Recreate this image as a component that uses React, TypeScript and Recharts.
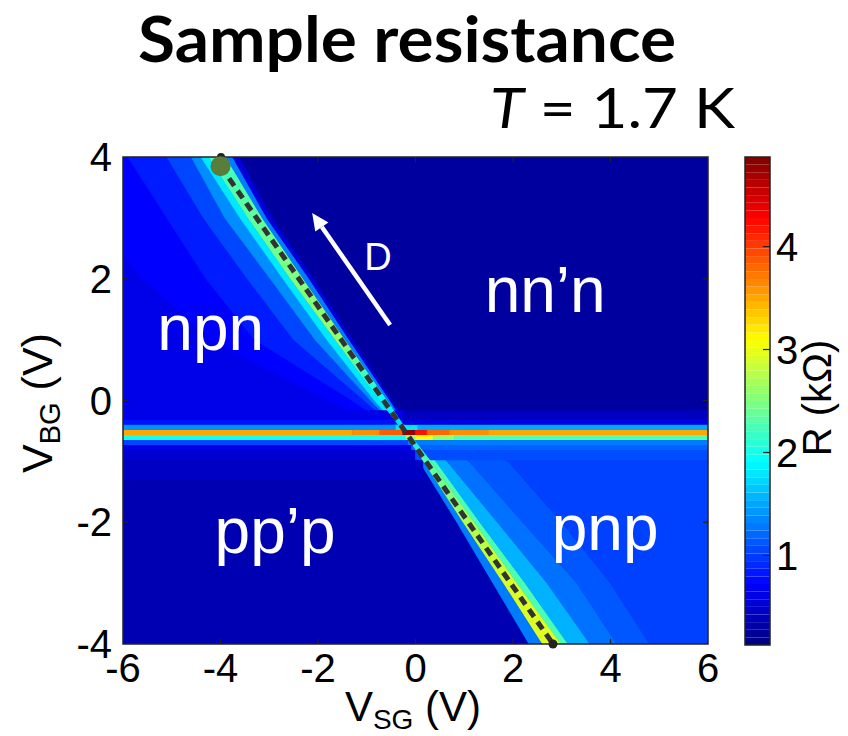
import React from "react";
import {
  ComposedChart,
  Area,
  Line,
  XAxis,
  YAxis,
  ReferenceArea,
  ReferenceLine,
  ReferenceDot,
} from "recharts";

const xTicks = [-6, -4, -2, 0, 2, 4, 6];
const yTicks = [-4, -2, 0, 2, 4];
const colorTicks = [1, 2, 3, 4];
const rLimits = [0.13, 4.87];

// flat regions, R in kOhm
const bulkNnn = 0.27;
const bulkPpp = 0.37;

// Dirac line (dashed) end points
const diracLine = [
  { vsg: -4.0, vbg: 3.85 },
  { vsg: 2.82, vbg: -4 },
];

// upper half: V_SG where each colour step of the map ends, per V_BG row
const upperRows = [4, 3, 2, 1, 0, -0.5];
const npnEdge5 = [-7.5, -6.6, -5.6, -4.2, -1.8, -0.5];
const npnEdge4 = [-5.9, -5.1, -4.3, -3.3, -1.3, -0.4];
const npnEdge3 = [-5.1, -4.35, -3.45, -2.5, -1.05, -0.34];
const npnEdge2 = [-4.6, -3.91, -2.98, -2.06, -0.92, -0.3];
const npnEdge1 = [-4.4, -3.6, -2.72, -1.82, -0.84, -0.28];
const coreLeftUpper = [-4.25, -3.44, -2.57, -1.65, -0.74, -0.26];
const coreRightUpper = [-3.9, -3.15, -2.31, -1.45, -0.58, -0.16];
const nnnEdge1 = [-3.75, -3.05, -2.18, -1.36, -0.52, -0.13];
const nnnEdge2 = [-3.62, -2.95, -2.1, -1.3, -0.48, -0.11];
const npnR = [0.62, 0.72, 0.85, 1.05, 1.38, 1.8];
const nnnR = [1.3, 0.55];
const coreUpperR = [2.2, 2.35, 2.5, 2.6, 1.9, 1.7];

// lower half
const lowerRows = [-0.5, -1, -2, -3, -4];
const pppEdge = [-0.27, 0.08, 0.85, 1.59, 2.33];
const coreLeftLower = [-0.26, 0.16, 0.97, 1.8, 2.6];
const coreRightLower = [-0.16, 0.32, 1.2, 2.08, 2.98];
const pnpEdge1 = [-0.12, 0.42, 1.32, 2.25, 3.13];
const pnpEdge2 = [-0.05, 0.65, 1.68, 2.7, 3.58];
const pnpEdge3 = [0.15, 1.1, 2.2, 3.31, 4.13];
const pnpEdge4 = [0.6, 1.9, 3.0, 4.0, 4.8];
const pppR = [1.3];
const pnpR = [2.25, 1.55, 1.25, 1.12, 1.02];
const coreLowerR = [1.7, 2.3, 2.7, 2.9, 2.95];

// horizontal resistance peak near V_BG = -0.5 V
const bandY = [-0.16, -0.32, -0.4, -0.485, -0.567, -0.649, -0.731, -0.813, -0.98, -1.3];
const bandCellX = [
  [-6, -0.25, 6],
  [-6, -0.25, 6],
  [-6, -0.4, 0.05, 6],
  [-6, -1.3, -0.73, -0.26, 0.0, 0.24, 0.7, 1.5, 6],
  [-6, -0.2, 0.0, 0.36, 0.8, 6],
  [-6, -0.15, 6],
  [-6, -0.08, 6],
  [-6, 0.0, 6],
  [-6, 0.15],
];
const bandCellR = [
  [0.62, 0.42],
  [0.8, 0.6],
  [1.4, 1.8, 1.5],
  [3.5, 3.62, 3.85, 4.75, 4.2, 3.8, 3.62, 3.5],
  [2.0, 2.6, 3.1, 2.6, 2.3],
  [1.05, 1.3],
  [0.62, 1.18],
  [0.52, 1.08],
  [0.45],
];
const innerBandRows = [2, 3, 4];

const FONT = "Liberation Sans, Arial, sans-serif";
const OUT = 12; // beyond the plot, clipped

function jet(r: number) {
  const f = Math.min(1, Math.max(0, (r - rLimits[0]) / (rLimits[1] - rLimits[0])));
  const ch = (c: number) =>
    Math.round(255 * Math.min(1, Math.max(0, 1.5 - Math.abs(4 * f - c))));
  return `rgb(${ch(3)},${ch(2)},${ch(1)})`;
}

const band = (rows: number[], left: number[], right: number[]) =>
  rows.map((vbg, i) => ({ vbg, range: [left[i], right[i]] }));

const farLeft = (rows: number[]) => rows.map(() => -OUT);
const farRight = (rows: number[]) => rows.map(() => OUT);

const layers: { data: any[]; r: number }[] = [
  { data: band([4.5, -4.5], [-OUT, -OUT], [OUT, OUT]), r: bulkNnn },
  { data: band([-0.5, -4.5], [-OUT, -OUT], [OUT, OUT]), r: bulkPpp },
  { data: band(upperRows, farLeft(upperRows), npnEdge5), r: npnR[0] },
  { data: band(upperRows, npnEdge5, npnEdge4), r: npnR[1] },
  { data: band(upperRows, npnEdge4, npnEdge3), r: npnR[2] },
  { data: band(upperRows, npnEdge3, npnEdge2), r: npnR[3] },
  { data: band(upperRows, npnEdge2, npnEdge1), r: npnR[4] },
  { data: band(upperRows, npnEdge1, coreLeftUpper), r: npnR[5] },
  { data: band(upperRows, coreRightUpper, nnnEdge1), r: nnnR[0] },
  { data: band(upperRows, nnnEdge1, nnnEdge2), r: nnnR[1] },
  { data: band(lowerRows, pppEdge, coreLeftLower), r: pppR[0] },
  { data: band(lowerRows, coreRightLower, pnpEdge1), r: pnpR[0] },
  { data: band(lowerRows, pnpEdge1, pnpEdge2), r: pnpR[1] },
  { data: band(lowerRows, pnpEdge2, pnpEdge3), r: pnpR[2] },
  { data: band(lowerRows, pnpEdge3, pnpEdge4), r: pnpR[3] },
  { data: band(lowerRows, pnpEdge4, farRight(lowerRows)), r: pnpR[4] },
];

const coreRows = [...upperRows, ...lowerRows.slice(1)];
const coreData = band(
  coreRows,
  [...coreLeftUpper, ...coreLeftLower.slice(1)],
  [...coreRightUpper, ...coreRightLower.slice(1)]
);
const coreR = [...coreUpperR, ...coreLowerR.slice(1)];

const bandCells = bandCellX.flatMap((xs, row) =>
  xs.slice(0, -1).map((x1, i) => ({
    row,
    data: band([bandY[row], bandY[row + 1]], [x1, x1], [xs[i + 1], xs[i + 1]]),
    r: bandCellR[row][i],
  }))
);

// 64-step jet colour bar
const colorLevels = Array.from({ length: 64 }, (_, i) => {
  const step = (rLimits[1] - rLimits[0]) / 64;
  const r1 = rLimits[0] + i * step;
  return {
    data: [
      { r: r1, range: [0, 1] },
      { r: r1 + step, range: [0, 1] },
    ],
    fill: jet(r1 + step / 2),
  };
});

function Arrow(p: any) {
  const { x1, y1, x2, y2 } = p;
  const len = Math.hypot(x2 - x1, y2 - y1);
  const ux = (x2 - x1) / len;
  const uy = (y2 - y1) / len;
  const bx = x2 - ux * 17;
  const by = y2 - uy * 17;
  return (
    <g>
      <line x1={x1} y1={y1} x2={bx} y2={by} stroke="#fff" strokeWidth={4.5} />
      <polygon
        points={`${x2},${y2} ${bx - uy * 8},${by + ux * 8} ${bx + uy * 8},${by - ux * 8}`}
        fill="#fff"
      />
    </g>
  );
}

const regionLabel = (text: string, size = 64) => ({
  value: text,
  position: "center" as const,
  fill: "#fff",
  fontSize: size,
  fontFamily: FONT,
});

const cell = (key: string, data: any[], color: string, sw = 0.6) => (
  <Area
    key={key}
    data={data}
    dataKey="range"
    type="linear"
    fill={color}
    fillOpacity={1}
    stroke={color}
    strokeWidth={sw}
    dot={false}
    activeDot={false}
    isAnimationActive={false}
  />
);

function HeatMap() {
  return (
    <ComposedChart
      width={848}
      height={736}
      layout="vertical"
      margin={{ top: 157, right: 140, bottom: 52, left: 63 }}
    >
      <defs>
        <linearGradient id="coreGrad" x1="0" y1="0" x2="0" y2="1">
          {coreRows.map((vbg, i) => (
            <stop key={i} offset={(4 - vbg) / 8} stopColor={jet(coreR[i])} />
          ))}
        </linearGradient>
      </defs>
      <XAxis
        type="number"
        domain={[-6, 6]}
        ticks={xTicks}
        interval={0}
        allowDataOverflow
        height={40}
        tickLine={false}
        axisLine={false}
        tickMargin={4}
        tick={{ fontSize: 40, fill: "#000", fontFamily: FONT }}
      />
      <YAxis
        type="number"
        dataKey="vbg"
        domain={[-4, 4]}
        ticks={yTicks}
        interval={0}
        reversed
        allowDataOverflow
        width={60}
        tickLine={false}
        axisLine={false}
        tickMargin={5}
        tick={{ fontSize: 40, fill: "#000", fontFamily: FONT }}
      />
      {layers.map((l, i) => cell(`l${i}`, l.data, jet(l.r), 0.8))}
      {bandCells
        .filter((c) => !innerBandRows.includes(c.row))
        .map((c, i) => cell(`bo${i}`, c.data, jet(c.r)))}
      <Area
        data={coreData}
        dataKey="range"
        type="linear"
        fill="url(#coreGrad)"
        fillOpacity={1}
        stroke="none"
        dot={false}
        activeDot={false}
        isAnimationActive={false}
      />
      {bandCells
        .filter((c) => innerBandRows.includes(c.row))
        .map((c, i) => cell(`bi${i}`, c.data, jet(c.r)))}
      <Line
        data={diracLine}
        dataKey="vsg"
        type="linear"
        stroke="#333"
        strokeWidth={5}
        strokeDasharray="9 6"
        dot={false}
        activeDot={false}
        isAnimationActive={false}
      />
      <ReferenceLine
        segment={[
          { x: -0.52, y: 1.24 },
          { x: -2.12, y: 3.08 },
        ]}
        shape={Arrow}
        ifOverflow="visible"
      />
      <ReferenceDot x={-3.99} y={4} r={4} fill="#222" stroke="none" ifOverflow="visible" />
      <ReferenceDot x={-4.0} y={3.85} r={10} fill="#5b7d3c" stroke="none" ifOverflow="visible" />
      <ReferenceDot x={2.82} y={-4} r={4.5} fill="#222" stroke="none" ifOverflow="visible" />
      <ReferenceDot x={-4.2} y={1.2} r={0} ifOverflow="visible" label={regionLabel("npn")} />
      <ReferenceDot x={2.66} y={1.82} r={0} ifOverflow="visible" label={regionLabel("nn’n")} />
      <ReferenceDot x={-2.88} y={-2.13} r={0} ifOverflow="visible" label={regionLabel("pp’p")} />
      <ReferenceDot x={3.89} y={-2.08} r={0} ifOverflow="visible" label={regionLabel("pnp")} />
      <ReferenceDot x={-0.77} y={2.37} r={0} ifOverflow="visible" label={regionLabel("D", 38)} />
      {xTicks.slice(1, -1).map((t) => (
        <ReferenceLine
          key={`xb${t}`}
          segment={[{ x: t, y: -4 }, { x: t, y: -3.915 }]}
          stroke="#222"
          strokeWidth={1.2}
        />
      ))}
      {xTicks.slice(1, -1).map((t) => (
        <ReferenceLine
          key={`xt${t}`}
          segment={[{ x: t, y: 4 }, { x: t, y: 3.915 }]}
          stroke="#222"
          strokeWidth={1.2}
        />
      ))}
      {yTicks.slice(1, -1).map((t) => (
        <ReferenceLine
          key={`yl${t}`}
          segment={[{ x: -6, y: t }, { x: -5.895, y: t }]}
          stroke="#222"
          strokeWidth={1.2}
        />
      ))}
      {yTicks.slice(1, -1).map((t) => (
        <ReferenceLine
          key={`yr${t}`}
          segment={[{ x: 6, y: t }, { x: 5.895, y: t }]}
          stroke="#222"
          strokeWidth={1.2}
        />
      ))}
      <ReferenceArea
        x1={-6}
        x2={6}
        y1={-4}
        y2={4}
        fill="none"
        stroke="#222"
        strokeWidth={1.5}
        ifOverflow="visible"
      />
    </ComposedChart>
  );
}

function ColorBar() {
  return (
    <ComposedChart
      width={848}
      height={736}
      layout="vertical"
      margin={{ top: 157, right: 8, bottom: 91, left: 745 }}
    >
      <XAxis type="number" domain={[0, 1]} allowDataOverflow hide />
      <YAxis
        type="number"
        dataKey="r"
        orientation="right"
        domain={rLimits}
        ticks={colorTicks}
        interval={0}
        reversed
        allowDataOverflow
        width={70}
        tickLine={false}
        axisLine={false}
        tickMargin={0}
        tick={{ fontSize: 40, fill: "#000", fontFamily: FONT, textAnchor: "start" }}
      />
      {colorLevels.map((c, i) => cell(`c${i}`, c.data, c.fill, 1.6))}
      {colorTicks.map((t) => (
        <ReferenceLine
          key={t}
          segment={[{ x: 0.72, y: t }, { x: 1, y: t }]}
          stroke="#222"
          strokeWidth={1.2}
        />
      ))}
      <ReferenceArea
        x1={0}
        x2={1}
        y1={rLimits[0]}
        y2={rLimits[1]}
        fill="none"
        stroke="#222"
        strokeWidth={1.5}
        ifOverflow="visible"
      />
    </ComposedChart>
  );
}

export default function App() {
  return (
    <div style={{ position: "absolute", left: 0, top: 0, width: 848, height: 736, background: "#fff" }}>
      <div style={{ position: "absolute", left: 0, top: 0 }}>
        <HeatMap />
      </div>
      <div style={{ position: "absolute", left: 0, top: 0 }}>
        <ColorBar />
      </div>
      <svg
        width={848}
        height={736}
        style={{ position: "absolute", left: 0, top: 0, pointerEvents: "none" }}
      >
        <text
          x={407}
          y={62}
          textAnchor="middle"
          fontFamily="Lato, sans-serif"
          fontWeight={700}
          fontSize={64}
          textLength={538}
          lengthAdjust="spacingAndGlyphs"
        >
          Sample resistance
        </text>
        <text
          x={490}
          y={128}
          fontFamily="Lato, sans-serif"
          fontSize={57}
          textLength={245}
          lengthAdjust="spacingAndGlyphs"
        >
          <tspan fontStyle="italic">T</tspan> = 1.7 K
        </text>
        <text x={413} y={721} textAnchor="middle" fontFamily={FONT} fontSize={42}>
          V<tspan fontSize={28} dy={8}>SG</tspan>
          <tspan dy={-8}> (V)</tspan>
        </text>
        <text
          transform="translate(52,403) rotate(-90)"
          textAnchor="middle"
          fontFamily={FONT}
          fontSize={43}
        >
          V<tspan fontSize={29} dy={8}>BG</tspan>
          <tspan dy={-8}> (V)</tspan>
        </text>
        <text
          transform="translate(831,398) rotate(-90)"
          textAnchor="middle"
          fontFamily={FONT}
          fontSize={40}
        >
          R (kΩ)
        </text>
      </svg>
    </div>
  );
}
